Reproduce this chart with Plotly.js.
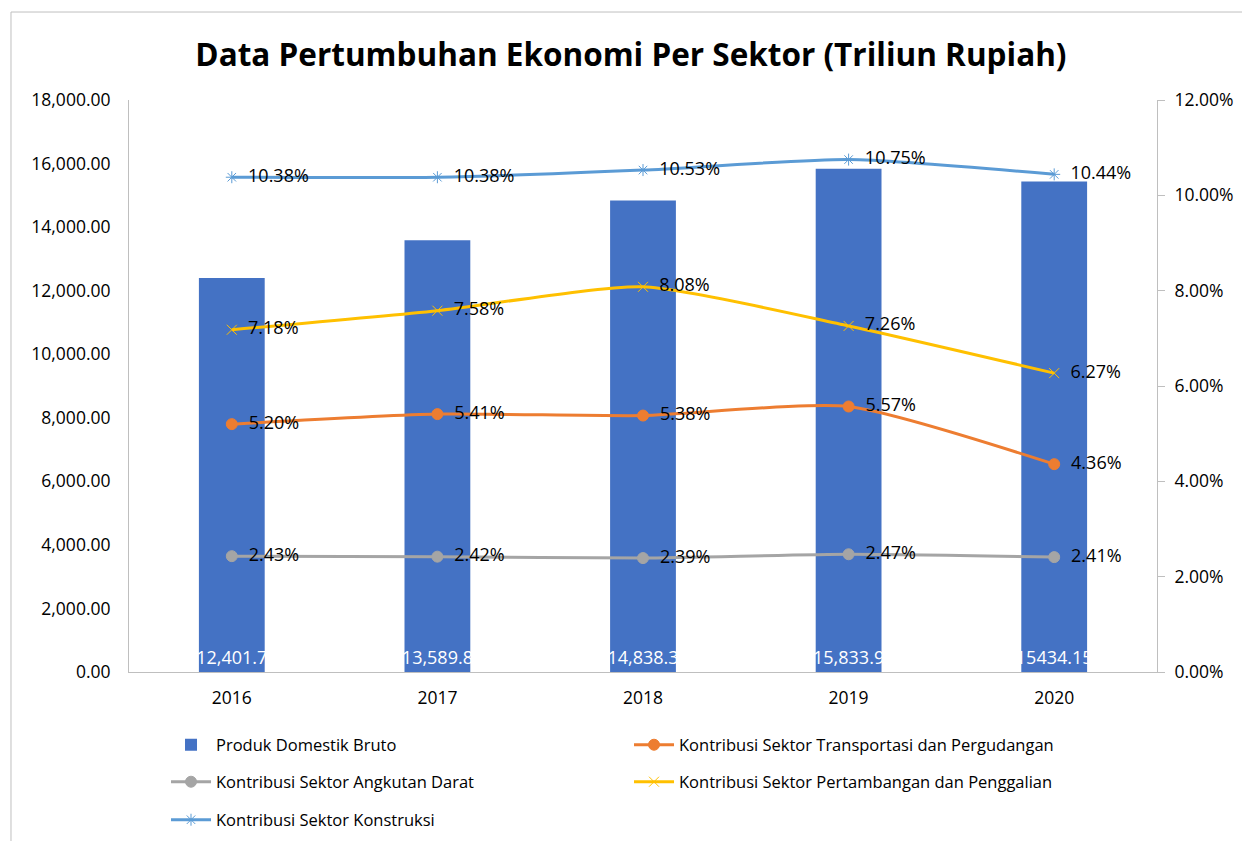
<!DOCTYPE html>
<html>
<head>
<meta charset="utf-8">
<script src="https://cdn.plot.ly/plotly-3.0.1.min.js"></script>
<style>
  body { margin: 0; background: #fff; }
  #chart { width: 1242px; height: 841px; }
</style>
</head>
<body>
<div id="chart"></div>
<script>
// data
var years = ["2016", "2017", "2018", "2019", "2020"];
var pdb = [12401.7, 13589.8, 14838.3, 15833.9, 15434.15];
var pdbLabels = ["12,401.7", "13,589.8", "14,838.3", "15,833.9", "15434.15"];
var transportasi = [5.20, 5.41, 5.38, 5.57, 4.36];
var angkutanDarat = [2.43, 2.42, 2.39, 2.47, 2.41];
var pertambangan = [7.18, 7.58, 8.08, 7.26, 6.27];
var konstruksi = [10.38, 10.38, 10.53, 10.75, 10.44];

var font = "Open Sans, sans-serif";

// percent labels, padded a little away from the marker
function pct(arr) {
  return arr.map(function (v) { return "\u2002" + v.toFixed(2) + "%"; });
}

function lineTrace(name, values, color, symbol, msize, legendId) {
  return {
    x: years,
    y: values,
    name: name,
    type: "scatter",
    mode: "lines+markers+text",
    yaxis: "y2",
    legend: legendId,
    line: { color: color, width: 3, shape: "spline", smoothing: 0.6 },
    marker: { color: color, symbol: symbol, size: msize, line: { color: color, width: 1 } },
    text: pct(values),
    textposition: "middle right",
    textfont: { family: font, size: 18, color: "#000" },
    cliponaxis: false
  };
}

var data = [
  {
    x: years,
    y: pdb,
    name: "Produk Domestik Bruto",
    type: "bar",
    width: 0.32,
    legend: "legend",
    marker: { color: "#4472C4" },
    text: pdbLabels,
    textposition: "inside",
    insidetextanchor: "start",
    textangle: 0,
    constraintext: "none",
    textfont: { family: font, size: 18, color: "#fff" }
  },
  lineTrace("Kontribusi Sektor Transportasi dan Pergudangan", transportasi, "#ED7D31", "circle", 11, "legend"),
  lineTrace("Kontribusi Sektor Angkutan Darat", angkutanDarat, "#A5A5A5", "circle", 11, "legend2"),
  lineTrace("Kontribusi Sektor Pertambangan dan Penggalian", pertambangan, "#FFC000", "x-thin-open", 10, "legend2"),
  lineTrace("Kontribusi Sektor Konstruksi", konstruksi, "#5B9BD5", "asterisk-open", 10, "legend3")
];

function legendRow(yPix) {
  return {
    orientation: "h",
    x: 0.036, xanchor: "left",
    yref: "container",
    y: 1 - yPix / 841, yanchor: "middle",
    entrywidth: 408, entrywidthmode: "pixels",
    itemwidth: 40,
    font: { family: font, size: 16.5 },
    bgcolor: "rgba(0,0,0,0)",
    traceorder: "normal"
  };
}

var layout = {
  width: 1242,
  height: 841,
  margin: { l: 129, r: 85, t: 100, b: 169 },
  paper_bgcolor: "#fff",
  plot_bgcolor: "#fff",
  font: { family: font, size: 16, color: "#000" },
  title: {
    text: "<b>Data Pertumbuhan Ekonomi Per Sektor (Triliun Rupiah)</b>",
    font: { family: font, size: 31.5, color: "#000" },
    x: 0.508, xref: "container", xanchor: "center",
    y: 0.935, yref: "container", yanchor: "middle"
  },
  xaxis: {
    type: "category",
    showline: true, linecolor: "#BFBFBF", linewidth: 1,
    ticks: "", showgrid: false,
    ticklabelstandoff: 10,
    tickfont: { family: font, size: 17.5 }
  },
  yaxis: {
    range: [0, 18000], dtick: 2000,
    tickformat: ",.2f",
    showline: true, linecolor: "#BFBFBF", linewidth: 1,
    showgrid: false, zeroline: false,
    ticks: "", ticklabelstandoff: 14,
    tickfont: { family: font, size: 17.5 }
  },
  yaxis2: {
    overlaying: "y", side: "right",
    range: [0, 12], dtick: 2,
    ticksuffix: "%", tickformat: ".2f",
    showline: true, linecolor: "#BFBFBF", linewidth: 1,
    ticks: "outside", ticklen: 7, tickcolor: "#BFBFBF",
    ticklabelstandoff: 6,
    showgrid: false, zeroline: false,
    tickfont: { family: font, size: 17.5 }
  },
  showlegend: true,
  legend: legendRow(745),
  legend2: legendRow(782),
  legend3: legendRow(820),
  shapes: [{
    type: "rect", xref: "paper", yref: "paper", layer: "below",
    x0: -0.1148, x1: 1.12, y0: -0.32, y1: 1.1538,
    line: { color: "#BFBFBF", width: 1 }
  }]
};

Plotly.newPlot("chart", data, layout, { displayModeBar: false });
</script>
</body>
</html>
